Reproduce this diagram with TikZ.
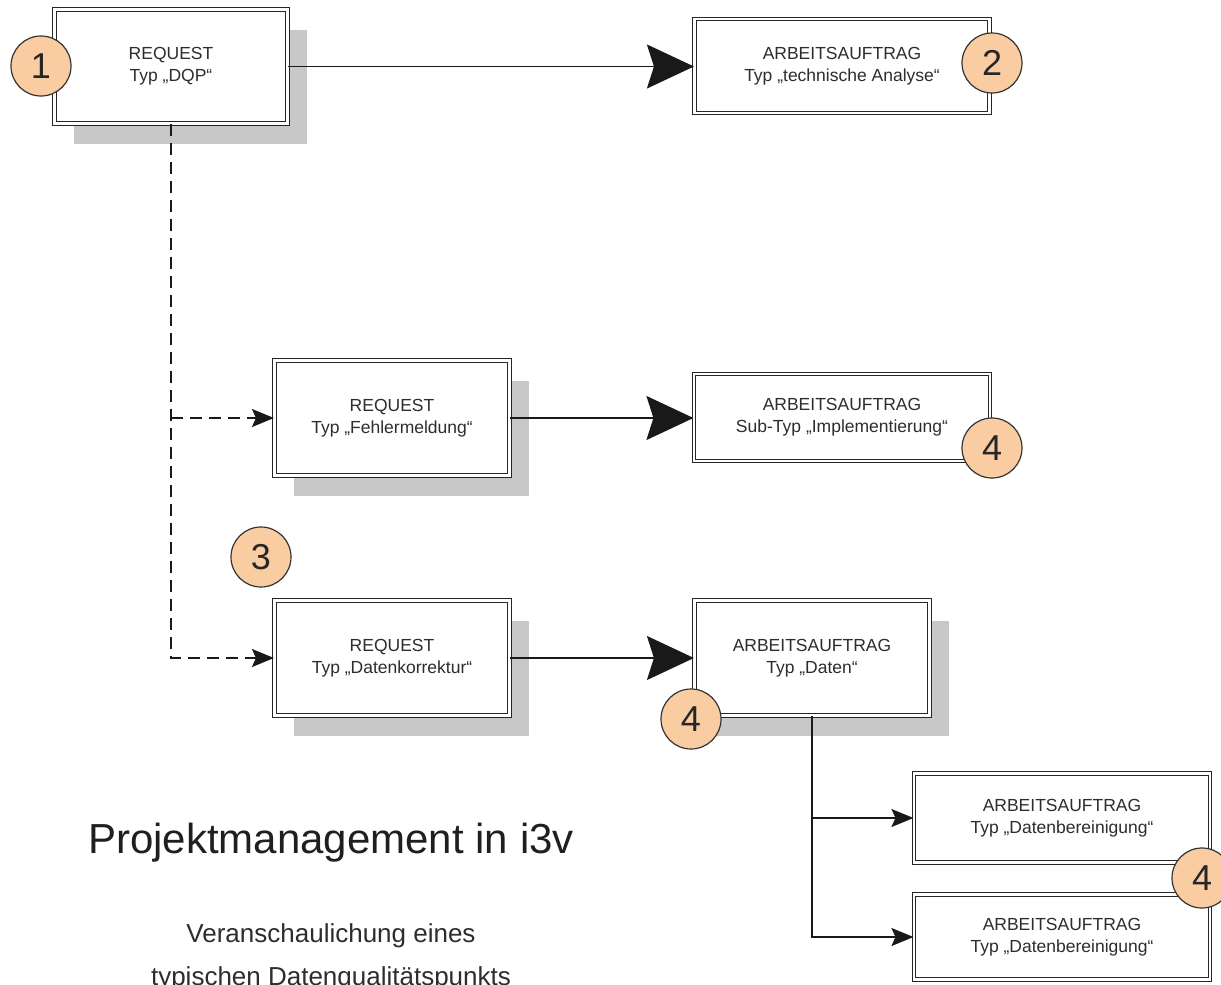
\documentclass[tikz,border=0pt]{standalone}
\usepackage{fontspec}
\setmainfont{Liberation Sans}
\usetikzlibrary{arrows.meta,shadows}
\definecolor{peach}{RGB}{250,204,162}
\definecolor{shad}{RGB}{200,200,200}
\definecolor{txt}{RGB}{45,45,45}
\begin{document}
\begin{tikzpicture}[x=1pt,y=-1pt,
  box/.style={draw=black!85, line width=1.1pt, double=white, double distance=2.6pt, fill=white,
    align=center, text=txt, font=\fontsize{17.5}{22}\selectfont, inner sep=0pt},
  shbox/.style={box, drop shadow={shadow xshift=19pt, shadow yshift=-20pt, fill=shad, opacity=1, draw=none}},
  num/.style={circle, draw=black!80, line width=1.2pt, fill=peach, minimum size=60pt, inner sep=0pt,
    text=black!85, font=\fontsize{36}{36}\selectfont},
  conn/.style={line width=1.6pt, draw=black!90},
  bigarrow/.style={conn, -{Stealth[length=47pt,width=44pt,inset=7pt]}},
  smallarrow/.style={-{Stealth[length=22pt,width=18pt,inset=4pt]}},
  dashline/.style={conn, dash pattern=on 12pt off 7pt}
]
\useasboundingbox (0,0) rectangle (1221,985);

% boxes
\node[shbox, minimum width=233pt, minimum height=114pt] (b1) at (171,66.5) {REQUEST\\Typ „DQP“};
\node[box, minimum width=295pt, minimum height=94pt] (b2) at (842,66) {ARBEITSAUFTRAG\\Typ „technische Analyse“};
\node[shbox, minimum width=235pt, minimum height=115pt] (b3) at (392,418) {REQUEST\\Typ „Fehlermeldung“};
\node[box, minimum width=296pt, minimum height=87pt] (b4) at (842,417.5) {ARBEITSAUFTRAG\\Sub-Typ „Implementierung“};
\node[shbox, minimum width=235pt, minimum height=115pt] (b5) at (392,658) {REQUEST\\Typ „Datenkorrektur“};
\node[shbox, minimum width=235pt, minimum height=115pt] (b6) at (812,658) {ARBEITSAUFTRAG\\Typ „Daten“};
\node[box, minimum width=296pt, minimum height=89pt] (b7) at (1062,818) {ARBEITSAUFTRAG\\Typ „Datenbereinigung“};
\node[box, minimum width=296pt, minimum height=85pt] (b8) at (1062,937) {ARBEITSAUFTRAG\\Typ „Datenbereinigung“};

% connectors
\draw[bigarrow] (b1.east) -- (b1.east -| b2.west);
\draw[bigarrow] (b3.east) -- (b4.west |- b3.east);
\draw[bigarrow] (b5.east) -- (b6.west);
\draw[dashline, smallarrow] (b1.south) -- (b1.south |- b5.west) -- (b5.west);
\draw[dashline, smallarrow] (b1.south |- b3.west) -- (b3.west);
\draw[conn, smallarrow] (b6.south) |- (b8.west);
\draw[conn, smallarrow] (b6.south |- b7.west) -- (b7.west);

% numbered circles
\node[num] (c1) at (41,66) {1};
\node[num] (c2) at (992,63) {2};
\node[num] (c3) at (261,557) {3};
\node[num] (c4a) at (992,448) {4};
\node[num] (c4b) at (691,719) {4};
\node[num] (c4c) at (1202,878) {4};

% texts
\node[anchor=base, text=black!88, font=\fontsize{42}{42}\selectfont, inner sep=0pt] (title) at (331,853) {Projektmanagement in i3v};
\node[anchor=base, text=txt, font=\fontsize{26}{26}\selectfont, inner sep=0pt] (sub1) at (331,942) {Veranschaulichung eines};
\node[anchor=base, text=txt, font=\fontsize{26}{26}\selectfont, inner sep=0pt] (sub2) at (331,985) {typischen Datenqualitätspunkts};
\end{tikzpicture}
\end{document}
